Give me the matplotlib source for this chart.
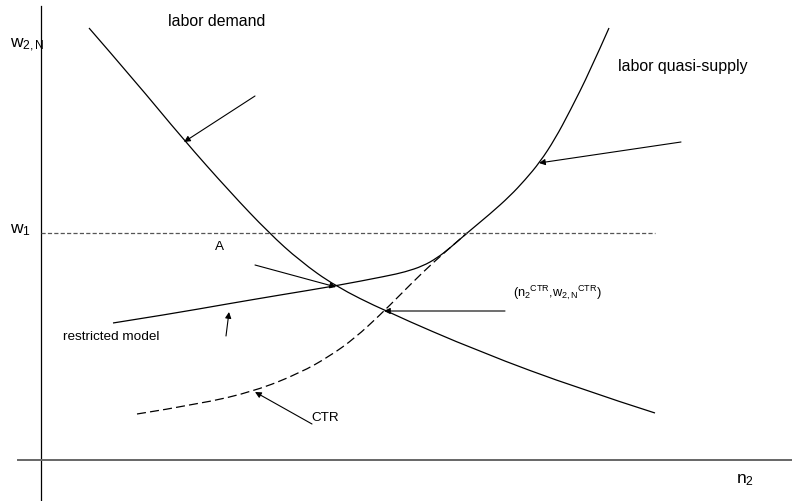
import matplotlib
matplotlib.use('Agg')
import matplotlib.pyplot as plt
from matplotlib.path import Path
from matplotlib.patches import PathPatch

# ==========================================
# DATA (diagram units, origin at axis crossing)
# ==========================================
demand_x = [48, 94, 142, 189, 228, 259, 294, 344, 439, 539, 614]
demand_y = [432, 379, 321, 268, 227, 199, 174, 149, 108, 71, 47]

# restricted model + labor quasi-supply (one solid curve)
supply_x = [72, 129, 186, 239, 294, 346, 364, 382, 396, 409, 426, 449, 469, 484, 499, 514, 529, 549, 568]
supply_y = [137, 146, 156, 165, 174, 184, 188, 194, 202, 212, 227, 246, 264, 280, 298, 321, 349, 389, 432]

# CTR curve (dashed)
ctr_x = [96, 159, 214, 259, 289, 314, 339, 359, 382, 404, 426]
ctr_y = [46, 56, 69, 87, 104, 122, 145, 165, 188, 208, 227]

w1_level = 227
w1_span = [0, 614]

# arrows: tail -> head
arrow_tails = [(214, 364), (640, 318), (214, 195), (185, 124), (464, 149), (271, 36)]
arrow_heads = [(143, 318), (498, 297), (295, 173), (188, 148), (343, 149), (214, 68)]

plt.rcParams['font.family'] = ['Liberation Sans', 'DejaVu Sans']
plt.rcParams['mathtext.fontset'] = 'custom'
plt.rcParams['mathtext.rm'] = 'Liberation Sans'
plt.rcParams['mathtext.it'] = 'Liberation Sans'
plt.rcParams['mathtext.default'] = 'regular'
plt.rcParams['lines.scale_dashes'] = False


def smooth_curve(ax, xs, ys, **kw):
    # quadratic bezier chain through the read points (midpoints on curve)
    pts = list(zip(xs, ys))
    verts = [pts[0]]
    codes = [Path.MOVETO]
    for i in range(1, len(pts) - 1):
        nxt = pts[i + 1] if i + 1 == len(pts) - 1 else (
            ((pts[i][0] + pts[i + 1][0]) / 2, (pts[i][1] + pts[i + 1][1]) / 2))
        verts += [pts[i], nxt]
        codes += [Path.CURVE3, Path.CURVE3]
    ax.add_patch(PathPatch(Path(verts, codes), fill=False, **kw))


fig = plt.figure(figsize=(7.92, 5.02), dpi=100)
ax = fig.add_axes([0, 0, 1, 1])
ax.set_xlim(-41, 751)
ax.set_ylim(-41, 461)
ax.axis('off')

# axes
ax.plot([0, 0], [454, -41], color='black', lw=0.9)
ax.plot([-23, 751], [0, 0], color='#666666', lw=1.4)

# w1 level
ax.plot(w1_span, [w1_level, w1_level], color='#555555', lw=0.9,
        linestyle=(0, (3.0, 1.6)))

# curves
smooth_curve(ax, demand_x, demand_y, edgecolor='black', lw=0.9)
smooth_curve(ax, supply_x, supply_y, edgecolor='black', lw=0.9)
smooth_curve(ax, ctr_x, ctr_y, edgecolor='black', lw=0.9, linestyle=(0, (6.5, 3.0)))

for (tx, ty), (hx, hy) in zip(arrow_tails, arrow_heads):
    ax.annotate('', xy=(hx, hy), xytext=(tx, ty),
                arrowprops=dict(arrowstyle='-|>', lw=0.8, color='black',
                                mutation_scale=9, shrinkA=0, shrinkB=0))

# labels
ax.text(127, 440, 'labor demand', fontsize=11.4, va='center', ha='left')
ax.text(577, 394, 'labor quasi-supply', fontsize=11.4, va='center', ha='left')
ax.text(-31, 413, r'w$_{2,N}$', fontsize=12.5, va='baseline', ha='left')
ax.text(-31, 228, r'w$_1$', fontsize=12.5, va='baseline', ha='left')
ax.text(174, 214, 'A', fontsize=9.7, va='center', ha='left')
ax.text(22, 124, 'restricted model', fontsize=9.7, va='center', ha='left')
ax.text(472, 168, r'(n$_2{}^{CTR}$,w$_{2,N}{}^{CTR}$)', fontsize=9.2, va='center', ha='left')
ax.text(270, 43, 'CTR', fontsize=9.7, va='center', ha='left')
ax.text(695, -19, r'n$_2$', fontsize=12.5, va='center', ha='left')

fig.savefig('out.png', dpi=100, facecolor='white')
